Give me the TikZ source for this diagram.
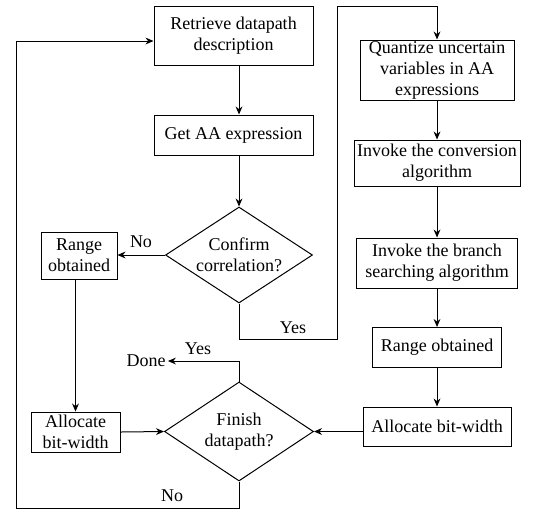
\documentclass[tikz,border=0pt]{standalone}
\usepackage{fontspec}
\setmainfont{Liberation Serif}
\usetikzlibrary{shapes.geometric,arrows.meta}

\tikzset{
    box/.style={draw, line width=0.5pt, align=center, inner xsep=1pt, inner ysep=0pt},
    decision/.style={draw, diamond, line width=0.5pt, align=center, inner sep=0pt, aspect=1.5},
    arr/.style={-{Stealth[length=4pt, width=3.4pt]}, line width=0.5pt},
    lbl/.style={inner sep=1pt}
}

\begin{document}
\begin{tikzpicture}[x=0.5pt, y=-0.5pt, font=\fontsize{9}{10.5}\selectfont]
    \useasboundingbox (0, 0) rectangle (534, 510);

    % Left column
    \node[box, minimum width=79.5pt, minimum height=29.5pt] (retrieve) at (233.5, 35.5)
    {Retrieve datapath\\description};
    \node[box, minimum width=79.5pt, minimum height=20pt] (getaa) at (233.5, 135)
    {Get AA expression};
    \node[decision, minimum width=73.5pt, minimum height=48pt] (confirm) at (239, 255)
    {Confirm\\correlation?};
    \node[box, minimum width=38pt, minimum height=23.5pt] (rangeL) at (79, 255.5)
    {Range\\obtained};
    \node[box, minimum width=44.5pt, minimum height=20pt] (allocL) at (75.5, 432)
    {Allocate\\bit-width};
    \node[decision, minimum width=74.5pt, minimum height=49.5pt] (finish) at (239, 431.5)
    {Finish\\datapath?};
    \node[lbl] (done) at (146, 361) {Done};

    % Right column
    \node[box, minimum width=77pt, minimum height=30pt] (quant) at (437, 70)
    {Quantize uncertain\\variables in AA\\expressions};
    \node[box, minimum width=83pt, minimum height=23pt] (conv) at (437, 163)
    {Invoke the conversion\\algorithm};
    \node[box, minimum width=80.5pt, minimum height=25pt] (branch) at (437, 263)
    {Invoke the branch\\searching algorithm};
    \node[box, minimum width=64.5pt, minimum height=20pt] (rangeR) at (437, 347.5)
    {Range obtained};
    \node[box, minimum width=74pt, minimum height=19.5pt] (allocR) at (437, 426.5)
    {Allocate bit-width};

    % Loop corners
    \coordinate (yesB) at (337, 339);
    \coordinate (yesT) at (337, 6);
    \coordinate (noB) at (16, 508);
    \coordinate (noT) at (16, 41);

    % Connectors
    \draw[arr] (retrieve.south -| confirm.north) -- (getaa.north -| confirm.north);
    \draw[arr] (getaa.south -| confirm.north) -- (confirm.north);
    \draw[arr] (confirm.west) -- (confirm.west -| rangeL.east);
    \draw[arr] (allocL.north |- rangeL.south) -- (allocL.north);
    \draw[arr] (confirm.south) |- (yesB) -- (yesT) -| (quant.north);
    \foreach \a/\b in {quant/conv, conv/branch, branch/rangeR, rangeR/allocR} {
        \draw[arr] (\a.south) -- (\b.north);
    }
    \draw[arr] (allocL.east) -- (finish.west);
    \draw[arr] (finish.east -| allocR.west) -- (finish.east);
    \draw[arr] (finish.north) |- (done.east);
    \draw[arr] (finish.south) |- (noB) -- (noT) -- (noT -| retrieve.west);

    % Branch labels
    \node[lbl] at (141, 242) {No};
    \node[lbl] at (293, 328) {Yes};
    \node[lbl] at (198, 349) {Yes};
    \node[lbl] at (172, 496) {No};
\end{tikzpicture}
\end{document}
